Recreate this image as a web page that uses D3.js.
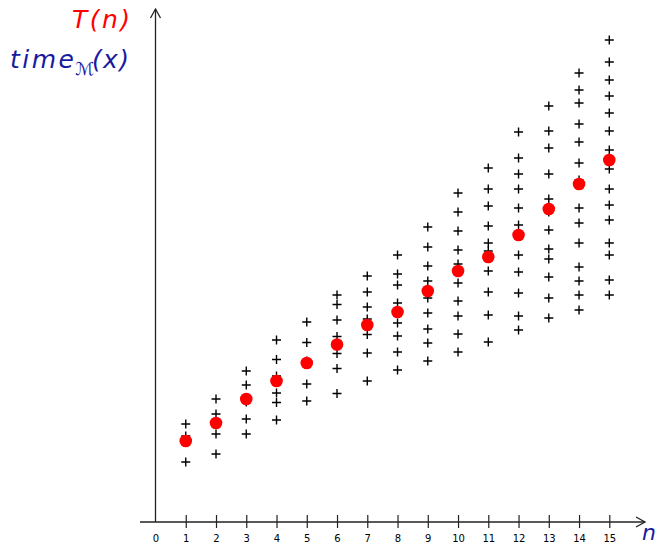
<!DOCTYPE html>
<html>
<head>
<meta charset="utf-8">
<script src="https://cdn.jsdelivr.net/npm/d3@7"></script>
<style>
  body { margin: 0; background: #fff; }
  svg { display: block; }
</style>
</head>
<body>
<svg width="662" height="547"></svg>
<script>
/*
Data: per input size n, the running times of individual inputs (pluses)
and the worst/mean curve T(n) (red dots).
*/
var sizes = [1, 2, 3, 4, 5, 6, 7, 8, 9, 10, 11, 12, 13, 14, 15];
var tickLabels = ["0", "1", "2", "3", "4", "5", "6", "7", "8", "9", "10", "11", "12", "13", "14", "15"];

var inputTimes = [
  [9.8, 8.6, 6.0],
  [12.3, 10.8, 8.8, 6.8],
  [15.1, 13.7, 12.0, 10.3, 8.8],
  [18.2, 16.25, 14.6, 12.9, 11.95, 10.2],
  [20.0, 17.95, 16.1, 13.8, 12.1],
  [22.7, 21.75, 20.2, 18.55, 16.85, 15.35, 12.85],
  [24.6, 23.0, 21.5, 20.3, 18.75, 16.9, 14.1],
  [26.7, 24.8, 23.7, 21.9, 19.9, 18.6, 17.0, 15.2],
  [29.5, 27.5, 25.6, 24.1, 22.4, 20.9, 19.3, 17.9, 16.1],
  [32.9, 31.0, 29.1, 27.2, 25.8, 23.9, 22.1, 20.6, 18.8, 17.0],
  [35.4, 33.3, 31.6, 29.6, 27.9, 27.1, 25.1, 23.0, 20.7, 18.0],
  [39.0, 36.4, 34.8, 33.3, 31.4, 29.7, 26.7, 25.0, 22.9, 20.6, 19.2],
  [41.6, 39.1, 37.4, 34.8, 32.3, 31.0, 29.2, 27.3, 26.3, 24.5, 22.4, 20.4],
  [44.9, 43.2, 41.9, 39.8, 38.0, 35.9, 34.2, 31.4, 29.9, 27.9, 25.5, 24.1, 22.7, 21.2],
  [48.2, 46.0, 44.2, 42.6, 40.9, 39.1, 37.2, 35.3, 33.3, 31.7, 30.2, 27.9, 26.7, 24.2, 22.7]
];

var meanTimes = [8.1, 9.9, 12.3, 14.1, 15.9, 17.75, 19.7, 21.0, 23.1, 25.1, 26.5, 28.7, 31.3, 33.8, 36.2];

var svg = d3.select("svg");
var blue = "#1a1aa0";
var axisColor = "#222";
var labelFont = "oblique 25px 'DejaVu Sans', sans-serif";

var xScale = d3.scaleLinear().domain([0, 15]).range([155.5, 609.3]),
    yScale = d3.scaleLinear().domain([0, 51.2]).range([522, 10]);

/*
Axes: plain lines with open arrow heads, ticks crossing the x axis.
*/
var y0 = yScale(0), x0 = xScale(0);

svg.append("line")
    .attr("x1", 140).attr("x2", 645)
    .attr("y1", y0).attr("y2", y0)
    .attr("stroke", axisColor).attr("stroke-width", 1.3);
svg.append("path")
    .attr("d", "M636," + (y0 - 5) + "L645," + y0 + "L636," + (y0 + 5))
    .attr("fill", "none").attr("stroke", axisColor).attr("stroke-width", 1.3);

svg.append("line")
    .attr("x1", x0).attr("x2", x0)
    .attr("y1", y0).attr("y2", 9)
    .attr("stroke", axisColor).attr("stroke-width", 1.3);
svg.append("path")
    .attr("d", "M" + (x0 - 5) + ",18L" + x0 + ",9L" + (x0 + 5) + ",18")
    .attr("fill", "none").attr("stroke", axisColor).attr("stroke-width", 1.3);

// lower half of ticks with the labels
var xAxis = svg.append("g")
    .attr("transform", "translate(0," + y0 + ")")
    .call(d3.axisBottom(xScale)
        .tickValues(d3.range(0, 16))
        .tickSize(6)
        .tickFormat(function(d) { return tickLabels[d]; }));
xAxis.select(".domain").remove();
xAxis.selectAll("line").attr("stroke", axisColor).attr("stroke-width", 1.2)
    .attr("display", function(d) { return d === 0 ? "none" : null; });
xAxis.selectAll("text")
    .attr("y", 13)
    .attr("fill", "#000")
    .style("font", "10px 'DejaVu Sans', sans-serif");

// upper half of ticks
var xAxisTop = svg.append("g")
    .attr("transform", "translate(0," + y0 + ")")
    .call(d3.axisTop(xScale).tickValues(sizes).tickSize(7).tickFormat(""));
xAxisTop.select(".domain").remove();
xAxisTop.selectAll("line").attr("stroke", axisColor).attr("stroke-width", 1.2);

/*
Individual input times as plus marks.
*/
var points = [];
sizes.forEach(function(n, i) {
  inputTimes[i].forEach(function(t) { points.push({n: n, t: t}); });
});

svg.append("g").selectAll("path")
    .data(points)
    .enter().append("path")
    .attr("transform", function(d) { return "translate(" + xScale(d.n) + "," + yScale(d.t) + ")"; })
    .attr("d", "M-4.5,0H4.5M0,-4.5V4.5")
    .attr("stroke", "#000")
    .attr("stroke-width", 1.4)
    .attr("fill", "none");

/*
T(n) as red dots.
*/
svg.append("g").selectAll("circle")
    .data(meanTimes)
    .enter().append("circle")
    .attr("cx", function(d, i) { return xScale(sizes[i]); })
    .attr("cy", function(d) { return yScale(d); })
    .attr("r", 6.3)
    .attr("fill", "#ff0000");

/*
Labels (stretched a little to the wide look of the original sans italic)
*/
svg.append("text")
    .attr("x", 72).attr("y", 28)
    .attr("fill", "#ff0000")
    .attr("textLength", 58)
    .attr("lengthAdjust", "spacing")
    .style("font", labelFont)
    .text("T(n)");

svg.append("text")
    .attr("x", 10).attr("y", 68)
    .attr("fill", blue)
    .attr("textLength", 64)
    .attr("lengthAdjust", "spacing")
    .style("font", labelFont)
    .text("time");
svg.append("text")
    .attr("x", 75).attr("y", 75)
    .attr("fill", blue)
    .style("font", "18px 'DejaVu Sans', sans-serif")
    .text("\u2133");
svg.append("text")
    .attr("x", 92).attr("y", 68)
    .attr("fill", blue)
    .attr("textLength", 37)
    .attr("lengthAdjust", "spacing")
    .style("font", labelFont)
    .text("(x)");

svg.append("text")
    .attr("x", 642).attr("y", 540)
    .attr("fill", blue)
    .style("font", "oblique 22px 'DejaVu Sans', sans-serif")
    .text("n");
</script>
</body>
</html>
